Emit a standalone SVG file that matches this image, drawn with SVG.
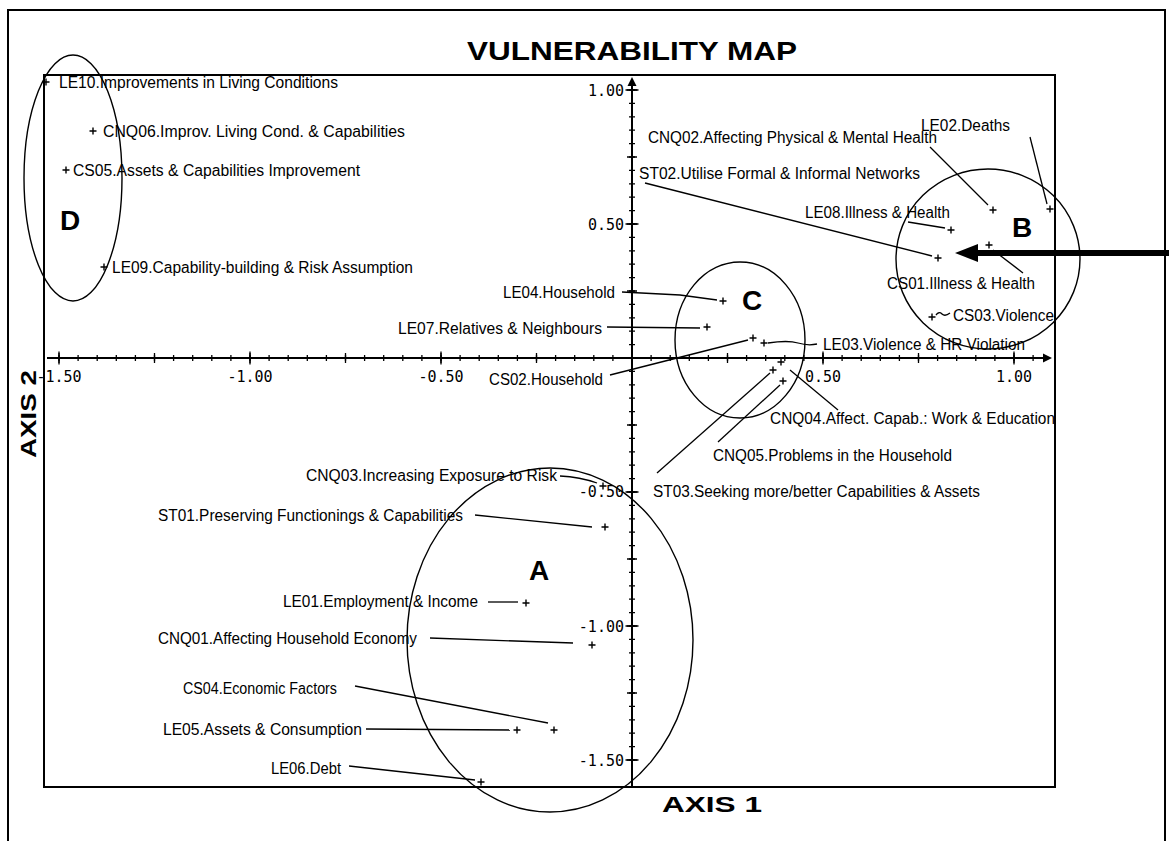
<svg xmlns="http://www.w3.org/2000/svg" width="1169" height="841" viewBox="0 0 1169 841">
  <style>
    .frame{fill:none;stroke:#000;stroke-width:2}
    .axis{fill:none;stroke:#000;stroke-width:2}
    .lbl{font-family:"Liberation Sans",Arial,sans-serif;font-size:16px;fill:#000}
    .num{font-family:"DejaVu Sans Mono","Liberation Mono",monospace;font-size:15px;fill:#000}
    .head{font-family:"Liberation Sans",Arial,sans-serif;font-weight:bold;fill:#000}
    .pt{fill:none;stroke:#000;stroke-width:1.4}
    .lead{fill:none;stroke:#000;stroke-width:1.3}
    .ring{fill:none;stroke:#000;stroke-width:1.4}
  </style>
  <defs>
    <path id="plus" d="M-3.5 0H3.5M0-3.5V3.5"/>
  </defs>

  <rect width="1169" height="841" fill="#fff"/>

  <!-- outer page frame (open at the bottom) -->
  <path class="frame" d="M8 841V10H1165V841"/>

  <!-- title -->
  <text class="head" x="632" y="60" font-size="26" text-anchor="middle" textLength="330" lengthAdjust="spacingAndGlyphs">VULNERABILITY MAP</text>

  <!-- plot box -->
  <rect class="frame" x="44" y="75" width="1011" height="712"/>

  <!-- axes -->
  <g id="axes">
    <path class="axis" d="M47 358H1046"/>
    <path d="M1052 358l-9-4.5v9z" fill="#000"/>
    <path class="axis" d="M632 787V84"/>
    <path d="M632 77l-4.5 9h9z" fill="#000"/>
    <!-- x ticks: every 0.05, 0.25 and 0.5 -->
    <path d="M58.35 358H1040" stroke="#000" stroke-width="6" stroke-dasharray="1.3 17.8"/>
    <path d="M58.35 358H1040" stroke="#000" stroke-width="10" stroke-dasharray="1.3 94.2"/>
    <path d="M58.35 358H1040" stroke="#000" stroke-width="13" stroke-dasharray="1.3 189.7"/>
    <!-- y ticks -->
    <path d="M632 760.65V85" stroke="#000" stroke-width="6" stroke-dasharray="1.3 12.1"/>
    <path d="M632 760.65V85" stroke="#000" stroke-width="10" stroke-dasharray="1.3 65.7"/>
    <path d="M632 760.65V85" stroke="#000" stroke-width="13" stroke-dasharray="1.3 132.7"/>
    <!-- tick labels -->
    <text class="num" x="59" y="382" text-anchor="middle">-1.50</text>
    <text class="num" x="250" y="382" text-anchor="middle">-1.00</text>
    <text class="num" x="441" y="382" text-anchor="middle">-0.50</text>
    <text class="num" x="823" y="382" text-anchor="middle">0.50</text>
    <text class="num" x="1014" y="382" text-anchor="middle">1.00</text>
    <text class="num" x="624" y="96" text-anchor="end">1.00</text>
    <text class="num" x="624" y="230" text-anchor="end">0.50</text>
    <text class="num" x="624" y="497" text-anchor="end">-0.50</text>
    <text class="num" x="624" y="632" text-anchor="end">-1.00</text>
    <text class="num" x="624" y="766" text-anchor="end">-1.50</text>
  </g>

  <!-- axis titles -->
  <text class="head" x="712" y="812" font-size="22" text-anchor="middle" textLength="100" lengthAdjust="spacingAndGlyphs">AXIS 1</text>
  <text class="head" transform="translate(36 414) rotate(-90)" font-size="22" text-anchor="middle" textLength="88" lengthAdjust="spacingAndGlyphs">AXIS 2</text>

  <!-- cluster rings and letters -->
  <g id="clusters">
    <ellipse class="ring" cx="73" cy="178" rx="49" ry="123"/>
    <ellipse class="ring" cx="740" cy="340" rx="65" ry="78"/>
    <ellipse class="ring" cx="988" cy="259" rx="92" ry="90"/>
    <ellipse class="ring" cx="550" cy="640" rx="143" ry="172"/>
    <text class="head" x="60" y="230" font-size="28">D</text>
    <text class="head" x="1012" y="237" font-size="28">B</text>
    <text class="head" x="742" y="310" font-size="28">C</text>
    <text class="head" x="529" y="580" font-size="28">A</text>
  </g>

  <!-- leader lines from labels to points -->
  <g id="connectors" class="lead">
    <path d="M1030 137L1047 204"/>
    <path d="M930 147L988 205"/>
    <path d="M645 183L932 256"/>
    <path d="M908 222L945 228"/>
    <path d="M993 250L1023 273"/>
    <path d="M936 315q3-4 6-1t8-1"/>
    <path d="M768 343q20-3 30 0t19 1"/>
    <path d="M610 375L748 340"/>
    <path d="M622 292L680 295L717 300"/>
    <path d="M607 327L700 328"/>
    <path d="M790 370L838 410"/>
    <path d="M718 442L780 385"/>
    <path d="M657 473L770 373"/>
    <path d="M560 476Q580 477 597 483"/>
    <path d="M475 515L592 527"/>
    <path d="M488 602H518"/>
    <path d="M430 638L573 643"/>
    <path d="M355 686L548 723"/>
    <path d="M366 729L510 730"/>
    <path d="M349 766L475 780"/>
  </g>

  <!-- highlight arrow -->
  <g id="pointer">
    <path d="M1169 253H972" stroke="#000" stroke-width="6"/>
    <path d="M955 253L978 244V262Z" fill="#000"/>
  </g>

  <!-- data points -->
  <g id="LE10"><use href="#plus" class="pt" x="46" y="82"/><text class="lbl" x="59" y="88" textLength="279" lengthAdjust="spacingAndGlyphs">LE10.Improvements in Living Conditions</text></g>
  <g id="CNQ06"><use href="#plus" class="pt" x="93" y="131"/><text class="lbl" x="103" y="137" textLength="302" lengthAdjust="spacingAndGlyphs">CNQ06.Improv. Living Cond. &amp; Capabilities</text></g>
  <g id="CS05"><use href="#plus" class="pt" x="66" y="170"/><text class="lbl" x="73" y="176" textLength="287" lengthAdjust="spacingAndGlyphs">CS05.Assets &amp; Capabilities Improvement</text></g>
  <g id="LE09"><use href="#plus" class="pt" x="104" y="267"/><text class="lbl" x="112" y="273" textLength="301" lengthAdjust="spacingAndGlyphs">LE09.Capability-building &amp; Risk Assumption</text></g>
  <g id="LE02"><use href="#plus" class="pt" x="1050" y="209"/><text class="lbl" x="921" y="131" textLength="89" lengthAdjust="spacingAndGlyphs">LE02.Deaths</text></g>
  <g id="CNQ02"><use href="#plus" class="pt" x="993" y="210"/><text class="lbl" x="648" y="143" textLength="289" lengthAdjust="spacingAndGlyphs">CNQ02.Affecting Physical &amp; Mental Health</text></g>
  <g id="ST02"><use href="#plus" class="pt" x="938" y="258"/><text class="lbl" x="639" y="179" textLength="281" lengthAdjust="spacingAndGlyphs">ST02.Utilise Formal &amp; Informal Networks</text></g>
  <g id="LE08"><use href="#plus" class="pt" x="951" y="230"/><text class="lbl" x="805" y="218" textLength="145" lengthAdjust="spacingAndGlyphs">LE08.Illness &amp; Health</text></g>
  <g id="CS01"><use href="#plus" class="pt" x="989" y="245"/><text class="lbl" x="887" y="289" textLength="148" lengthAdjust="spacingAndGlyphs">CS01.Illness &amp; Health</text></g>
  <g id="CS03"><use href="#plus" class="pt" x="932" y="317"/><text class="lbl" x="953" y="321" textLength="101" lengthAdjust="spacingAndGlyphs">CS03.Violence</text></g>
  <g id="LE03"><use href="#plus" class="pt" x="764" y="343"/><text class="lbl" x="823" y="350" textLength="202" lengthAdjust="spacingAndGlyphs">LE03.Violence &amp; HR Violation</text></g>
  <g id="CS02"><use href="#plus" class="pt" x="753" y="338"/><text class="lbl" x="489" y="385" textLength="114" lengthAdjust="spacingAndGlyphs">CS02.Household</text></g>
  <g id="LE04"><use href="#plus" class="pt" x="723" y="301"/><text class="lbl" x="503" y="298" textLength="112" lengthAdjust="spacingAndGlyphs">LE04.Household</text></g>
  <g id="LE07"><use href="#plus" class="pt" x="707" y="327"/><text class="lbl" x="398" y="334" textLength="204" lengthAdjust="spacingAndGlyphs">LE07.Relatives &amp; Neighbours</text></g>
  <g id="CNQ04"><use href="#plus" class="pt" x="781" y="362"/><text class="lbl" x="770" y="424" textLength="285" lengthAdjust="spacingAndGlyphs">CNQ04.Affect. Capab.: Work &amp; Education</text></g>
  <g id="CNQ05"><use href="#plus" class="pt" x="783" y="381"/><text class="lbl" x="713" y="461" textLength="239" lengthAdjust="spacingAndGlyphs">CNQ05.Problems in the Household</text></g>
  <g id="ST03"><use href="#plus" class="pt" x="773" y="370"/><text class="lbl" x="653" y="497" textLength="327" lengthAdjust="spacingAndGlyphs">ST03.Seeking more/better Capabilities &amp; Assets</text></g>
  <g id="CNQ03"><use href="#plus" class="pt" x="603" y="486"/><text class="lbl" x="306" y="481" textLength="251" lengthAdjust="spacingAndGlyphs">CNQ03.Increasing Exposure to Risk</text></g>
  <g id="ST01"><use href="#plus" class="pt" x="605" y="527"/><text class="lbl" x="158" y="521" textLength="305" lengthAdjust="spacingAndGlyphs">ST01.Preserving Functionings &amp; Capabilities</text></g>
  <g id="LE01"><use href="#plus" class="pt" x="526" y="603"/><text class="lbl" x="283" y="607" textLength="195" lengthAdjust="spacingAndGlyphs">LE01.Employment &amp; Income</text></g>
  <g id="CNQ01"><use href="#plus" class="pt" x="592" y="645"/><text class="lbl" x="158" y="644" textLength="259" lengthAdjust="spacingAndGlyphs">CNQ01.Affecting Household Economy</text></g>
  <g id="CS04"><use href="#plus" class="pt" x="554" y="730"/><text class="lbl" x="183" y="694" textLength="154" lengthAdjust="spacingAndGlyphs">CS04.Economic Factors</text></g>
  <g id="LE05"><use href="#plus" class="pt" x="517" y="730"/><text class="lbl" x="163" y="735" textLength="199" lengthAdjust="spacingAndGlyphs">LE05.Assets &amp; Consumption</text></g>
  <g id="LE06"><use href="#plus" class="pt" x="481" y="782"/><text class="lbl" x="271" y="774" textLength="70" lengthAdjust="spacingAndGlyphs">LE06.Debt</text></g>
</svg>
